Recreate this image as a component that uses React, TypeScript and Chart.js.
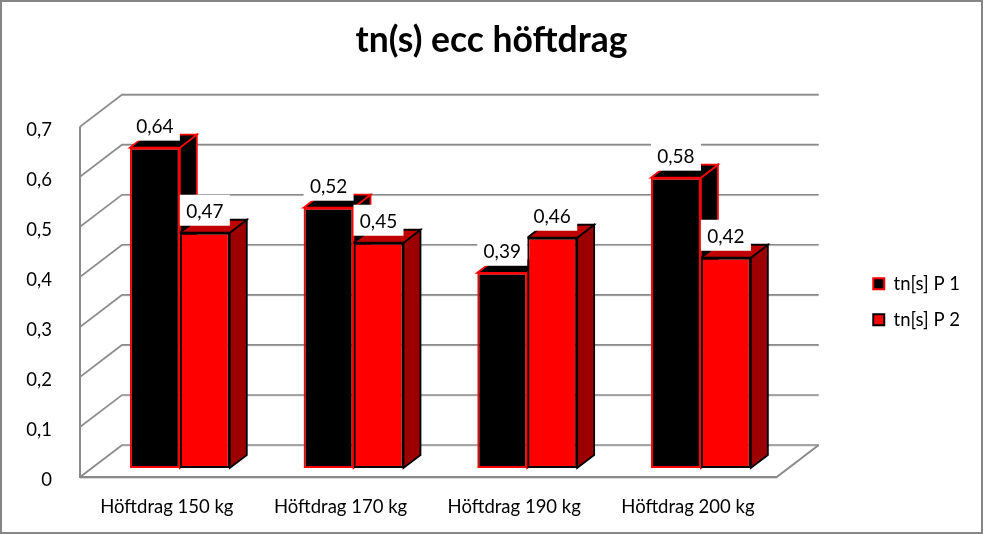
import React, { useEffect, useRef } from "react";
import { Chart, registerables } from "chart.js";

Chart.register(...registerables);

const categories = ["Höftdrag 150 kg", "Höftdrag 170 kg", "Höftdrag 190 kg", "Höftdrag 200 kg"];
const seriesP1 = [0.64, 0.52, 0.39, 0.58];
const seriesP2 = [0.47, 0.45, 0.46, 0.42];
const seriesNames = ["tn[s] P 1", "tn[s] P 2"];
const chartTitle = "tn(s) ecc höftdrag";

const FONT = "Lato, Carlito, Calibri, sans-serif";
const GREY = "#8a8a8a";
const WALL_DX = 42;
const WALL_DY = 32;
const BAR_SHIFT_X = 13;
const BAR_SHIFT_Y = 9;
const BAR_DX = 17;
const BAR_DY = 13;

const fmt = (v: number) => String(Math.round(v * 100) / 100).replace(".", ",");

const faces3d = [
  { top: "#000000", side: "#000000", edge: "#ff0000" },
  { top: "#c00000", side: "#9c0000", edge: "#000000" },
];

const frame = {
  id: "frame",
  beforeDraw(chart: any) {
    const { ctx, width, height } = chart;
    ctx.save();
    ctx.fillStyle = "#ffffff";
    ctx.fillRect(0, 0, width, height);
    ctx.strokeStyle = "#868686";
    ctx.lineWidth = 2;
    ctx.strokeRect(1, 1, width - 2, height - 2);
    ctx.restore();
  },
};

function line(ctx: any, pts: number[][], color: string, w: number) {
  ctx.beginPath();
  pts.forEach((p, i) => (i ? ctx.lineTo(p[0], p[1]) : ctx.moveTo(p[0], p[1])));
  ctx.strokeStyle = color;
  ctx.lineWidth = w;
  ctx.stroke();
}

function poly(ctx: any, pts: number[][], fill: string, edge: string) {
  ctx.beginPath();
  pts.forEach((p, i) => (i ? ctx.lineTo(p[0], p[1]) : ctx.moveTo(p[0], p[1])));
  ctx.closePath();
  ctx.fillStyle = fill;
  ctx.fill();
  ctx.strokeStyle = edge;
  ctx.lineWidth = 1.8;
  ctx.stroke();
}

const depth3d = {
  id: "depth3d",
  beforeDatasetsDraw(chart: any) {
    const { ctx, scales, chartArea } = chart;
    const { left, right, bottom, top } = chartArea;
    ctx.save();
    ctx.lineJoin = "miter";
    // walls and gridlines
    scales.y.ticks.forEach((t: any) => {
      const y = scales.y.getPixelForValue(t.value);
      const pts = [
        [left, y],
        [left + WALL_DX, y - WALL_DY],
        [right + WALL_DX + 2, y - WALL_DY],
      ];
      line(ctx, pts.map((p) => [p[0], p[1] + 1]), "#d8d8d8", 1);
      line(ctx, pts, GREY, 1.6);
    });
    line(ctx, [[left, top], [left, bottom + 1]], GREY, 2);
    line(ctx, [[left, bottom + 1.5], [right + 2, bottom + 1.5]], "#d8d8d8", 1);
    line(ctx, [[left, bottom], [right + 2, bottom], [right + WALL_DX + 2, bottom - WALL_DY]], GREY, 2);
    ctx.restore();

    // bars sit inside the depth of the floor
    ctx.save();
    ctx.translate(BAR_SHIFT_X, -BAR_SHIFT_Y);
    [0, 1].forEach((di) => {
      const st = faces3d[di];
      chart.getDatasetMeta(di).data.forEach((b: any) => {
        const x0 = b.x - b.width / 2;
        const x1 = b.x + b.width / 2;
        poly(ctx, [[x1, b.y], [x1 + BAR_DX, b.y - BAR_DY], [x1 + BAR_DX, b.base - BAR_DY], [x1, b.base]], st.side, st.edge);
        poly(ctx, [[x0, b.y], [x0 + BAR_DX, b.y - BAR_DY], [x1 + BAR_DX, b.y - BAR_DY], [x1, b.y]], st.top, st.edge);
      });
    });
  },
  afterDatasetsDraw(chart: any) {
    const { ctx } = chart;
    ctx.restore();
    ctx.save();
    ctx.font = `19px ${FONT}`;
    ctx.textAlign = "center";
    ctx.textBaseline = "middle";
    [0, 1].forEach((di) => {
      const values = chart.data.datasets[di].data;
      chart.getDatasetMeta(di).data.forEach((b: any, i: number) => {
        const cx = b.x + BAR_SHIFT_X;
        const bottom = b.y - BAR_SHIFT_Y - 7;
        ctx.fillStyle = "#ffffff";
        ctx.fillRect(cx - 25, bottom - 31, 50, 31);
        ctx.fillStyle = "#000000";
        ctx.fillText(fmt(values[i]), cx, bottom - 14);
      });
    });
    ctx.restore();
  },
};

export default function App() {
  const ref = useRef<HTMLCanvasElement | null>(null);

  useEffect(() => {
    const chart = new Chart(ref.current as HTMLCanvasElement, {
      type: "bar",
      data: {
        labels: categories,
        datasets: [
          {
            label: seriesNames[0],
            data: seriesP1,
            backgroundColor: "#000000",
            borderColor: "#ff0000",
            borderWidth: 2,
            borderSkipped: false,
            clip: false,
            categoryPercentage: 0.575,
            barPercentage: 1,
          },
          {
            label: seriesNames[1],
            data: seriesP2,
            backgroundColor: "#ff0000",
            borderColor: "#000000",
            borderWidth: 2,
            borderSkipped: false,
            clip: false,
            categoryPercentage: 0.575,
            barPercentage: 1,
          },
        ],
      } as any,
      options: {
        responsive: false,
        animation: false,
        layout: { padding: { left: 13, right: 13, top: 0, bottom: 0 } },
        plugins: {
          title: {
            display: true,
            text: chartTitle,
            color: "#000000",
            font: { family: FONT, size: 35.5, weight: "bold", lineHeight: 1.2 },
            padding: { top: 19, bottom: 65 },
          },
          legend: {
            display: true,
            position: "right",
            fullSize: false,
            labels: {
              color: "#000000",
              font: { family: FONT, size: 18.5 },
              boxWidth: 11,
              boxHeight: 11,
              padding: 17.5,
            },
          },
          tooltip: { enabled: false },
        },
        scales: {
          x: {
            grid: { display: false },
            border: { display: false },
            ticks: { color: "#000000", font: { family: FONT, size: 18.5 }, padding: 11, maxRotation: 0 },
            afterFit: (a: any) => {
              a.height = 57;
            },
          },
          y: {
            min: 0,
            max: 0.7,
            grid: { display: false },
            border: { display: false },
            ticks: {
              stepSize: 0.1,
              color: "#000000",
              font: { family: FONT, size: 18.5 },
              padding: 20,
              callback: (v: any) => fmt(Number(v)),
            },
            afterFit: (a: any) => {
              a.width = 67;
              if (!a.__shifted) {
                a.__shifted = true;
                const draw = a.drawLabels;
                a.drawLabels = function (area: any) {
                  a.ctx.save();
                  a.ctx.translate(0, 3);
                  draw.call(a, area);
                  a.ctx.restore();
                };
              }
            },
          },
          spacer: {
            type: "linear",
            position: "right",
            display: true,
            grid: { display: false },
            border: { display: false },
            ticks: { display: false },
            afterFit: (a: any) => {
              a.width = 81;
            },
          },
        },
      } as any,
      plugins: [frame, depth3d],
    });
    return () => chart.destroy();
  }, []);

  return (
    <div style={{ position: "fixed", left: 0, top: 0 }}>
      <canvas ref={ref} width={983} height={534} style={{ display: "block" }} />
    </div>
  );
}
